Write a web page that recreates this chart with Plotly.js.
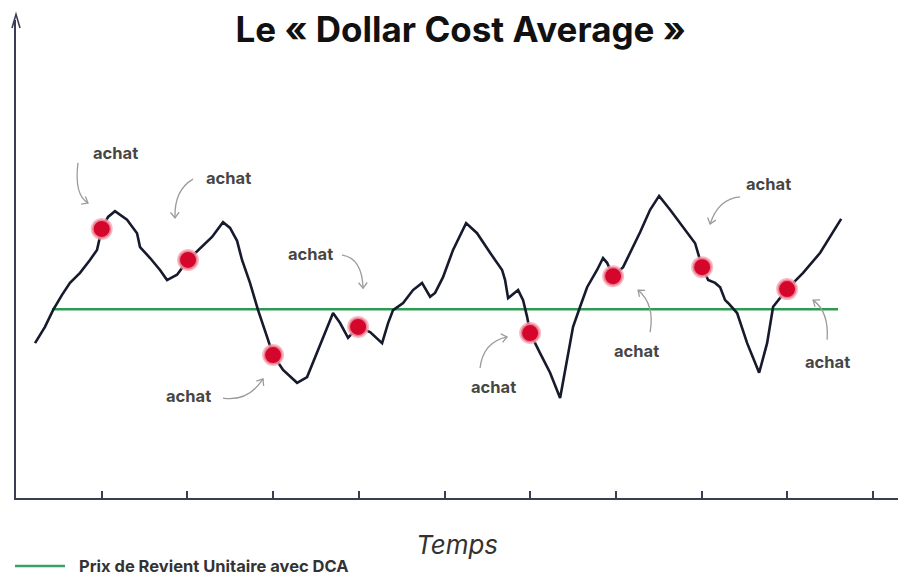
<!DOCTYPE html>
<html><head><meta charset="utf-8">
<script src="https://cdn.plot.ly/plotly-3.0.1.min.js"></script>
<style>html,body{margin:0;padding:0;background:#fff}#chart{width:898px;height:576px}</style>
</head><body><div id="chart"></div>
<script>
// Price path over time (time unit = one purchase period)
const timeX = [0.222,0.338,0.432,0.537,0.630,0.747,0.863,0.945,1.000,1.074,1.155,1.295,1.412,1.447,1.564,1.680,1.762,1.879,2.007,2.147,2.287,2.415,2.497,2.579,2.637,2.730,2.824,2.929,2.999,3.116,3.279,3.396,3.524,3.629,3.699,3.781,3.874,3.991,4.131,4.271,4.341,4.399,4.516,4.632,4.737,4.831,4.889,4.982,5.099,5.251,5.379,5.531,5.671,5.706,5.741,5.858,5.916,5.963,5.998,6.114,6.231,6.348,6.429,6.499,6.581,6.663,6.779,6.849,6.896,6.966,7.083,7.281,7.398,7.503,7.631,7.783,7.923,8.005,8.075,8.156,8.215,8.273,8.308,8.413,8.530,8.670,8.763,8.833,8.996,9.183,9.382,9.627];
const price = [32.4,35.8,39.3,42.5,45.0,47.1,49.8,51.9,56.3,58.8,60.0,58.2,55.4,52.5,50.2,47.7,45.6,46.7,49.8,52.3,54.6,57.7,56.5,53.8,49.8,45.0,39.3,33.7,29.9,26.8,24.1,25.3,31.0,35.8,38.7,36.6,33.5,35.8,34.7,32.4,36.6,39.3,40.8,43.5,45.0,42.1,42.9,46.2,51.9,57.5,55.4,51.3,47.7,45.6,41.8,43.5,41.4,37.9,34.5,30.3,26.2,20.9,28.9,35.8,40.0,44.1,47.7,50.2,49.2,46.4,48.3,55.6,60.3,63.2,60.3,56.7,53.3,48.3,45.6,45.0,44.1,41.4,40.8,38.7,32.4,26.2,32.4,40.0,43.7,47.1,51.3,58.4];
// Purchases (achat)
const buyX = [1.000,2.007,2.999,3.991,5.998,6.966,8.005,8.996];
const buyY = [56.3,49.8,29.9,35.8,34.5,46.4,48.3,43.7];
// Unit cost price with DCA
const pruX = [0.42,9.59];
const pruY = [39.5,39.5];
const pruName = 'Prix de Revient Unitaire avec DCA';
const tickVals = [1,2,3,4,5,6,7,8,9,10];
const labelText = 'achat';

// ---- layout constants ----
const W = 898, H = 576, M = {l:16, r:0, t:20, b:78};
const PW = W - M.l - M.r, PH = H - M.t - M.b;
const xRange = [0, 10.29], yRange = [0, 100];
const pxPerX = PW / (xRange[1] - xRange[0]);
const pxPerY = PH / (yRange[1] - yRange[0]);

// label positions and curved arrows (start, control, end)
const labelPos = [[1.155,72.2],[2.474,66.9],[3.431,51.0],[2.007,21.3],[5.566,23.2],[7.235,30.8],[8.775,65.7],[9.463,28.5]];
const arrowDefs = [
  [0.723,70.1, 0.677,63.4, 0.840,61.7],
  [2.065,66.7, 1.844,64.4, 1.855,58.6],
  [3.804,50.8, 4.037,50.2, 4.049,43.9],
  [2.415,20.9, 2.707,20.1, 2.882,24.9],
  [5.414,27.2, 5.449,32.6, 5.729,33.7],
  [7.398,34.7, 7.456,40.4, 7.258,43.5],
  [8.448,63.0, 8.191,62.6, 8.098,57.3],
  [9.463,33.1, 9.487,38.9, 9.300,41.4]
];

const arrowColor = '#9b9b9b';
const fontFam = 'Inter, Roboto, sans-serif';
const shapes = [];
arrowDefs.forEach(a => {
  const [sx,sy,cx,cy,ex,ey] = a;
  shapes.push({type:'path', xref:'x', yref:'y',
    path:`M${sx},${sy} Q${cx},${cy} ${ex},${ey}`,
    line:{color:arrowColor, width:1.3}});
  let dx = (ex - cx) * pxPerX, dy = -(ey - cy) * pxPerY;
  const n = Math.hypot(dx, dy); dx /= n; dy /= n;
  const L = 7, ang = 38 * Math.PI / 180;
  const pts = [ang, -ang].map(t => {
    const bx = -dx, by = -dy;
    const rx = bx * Math.cos(t) - by * Math.sin(t);
    const ry = bx * Math.sin(t) + by * Math.cos(t);
    return [ex + rx * L / pxPerX, ey - ry * L / pxPerY];
  });
  shapes.push({type:'path', xref:'x', yref:'y',
    path:`M${pts[0][0]},${pts[0][1]} L${ex},${ey} L${pts[1][0]},${pts[1][1]}`,
    line:{color:arrowColor, width:1.3}});
});
// y-axis arrow head
const axisColor = '#3b3e52';
const yaW = 4 / PW, yaH = 8 / PH;
shapes.push({type:'path', xref:'paper', yref:'paper',
  path:`M${-yaW},${1 - yaH} L0,1.012 L${yaW},${1 - yaH}`,
  line:{color:axisColor, width:1.6}});
// legend key (drawn by hand below the chart)
const legY = (498 - 566) / PH;
shapes.push({type:'line', xref:'paper', yref:'paper', x0:(15 - M.l) / PW, x1:(65 - M.l) / PW, y0:legY, y1:legY,
  line:{color:'#3a9f68', width:2.5}});

const annotations = labelPos.map(p => ({
  x:p[0], y:p[1], xref:'x', yref:'y', text:labelText, showarrow:false,
  font:{family:fontFam, size:16.5, weight:700, color:'#464646'}
}));
annotations.push({xref:'paper', yref:'paper', x:(77 - M.l) / PW, y:legY, xanchor:'left', yanchor:'middle',
  text:pruName, showarrow:false, font:{family:fontFam, size:16.5, weight:700, color:'#333'}});

const traces = [
  {x:pruX, y:pruY, type:'scatter', mode:'lines', name:pruName,
   line:{color:'#2e9b55', width:2.5}, hoverinfo:'skip'},
  {x:timeX, y:price, type:'scatter', mode:'lines', name:'Prix',
   line:{color:'#161a2c', width:2.6, shape:'linear'}},
  {x:buyX, y:buyY, type:'scatter', mode:'markers', name:'achat',
   marker:{color:'#d4062c', size:19, line:{color:'rgba(244,165,178,0.75)', width:3}}}
];

const layout = {
  width:W, height:H, margin:M,
  paper_bgcolor:'#fff', plot_bgcolor:'#fff',
  title:{text:'Le « Dollar Cost Average »', xref:'container', x:0.513, xanchor:'center',
    yref:'container', y:0.948, yanchor:'middle',
    font:{family:fontFam, size:35, weight:700, color:'#111'}},
  xaxis:{range:xRange, showgrid:false, zeroline:false, showline:true, linecolor:axisColor, linewidth:2,
    ticks:'inside', ticklen:7, tickwidth:2, tickcolor:axisColor, tickvals:tickVals, showticklabels:false,
    title:{text:'Temps', standoff:37, font:{family:fontFam, size:26, style:'italic', weight:400, color:'#333'}},
    fixedrange:true},
  yaxis:{range:yRange, showgrid:false, zeroline:false, showline:true, linecolor:axisColor, linewidth:2,
    ticks:'', showticklabels:false, fixedrange:true},
  showlegend:false,
  shapes:shapes, annotations:annotations
};
Plotly.newPlot('chart', traces, layout, {displayModeBar:false, staticPlot:true});
</script></body></html>
